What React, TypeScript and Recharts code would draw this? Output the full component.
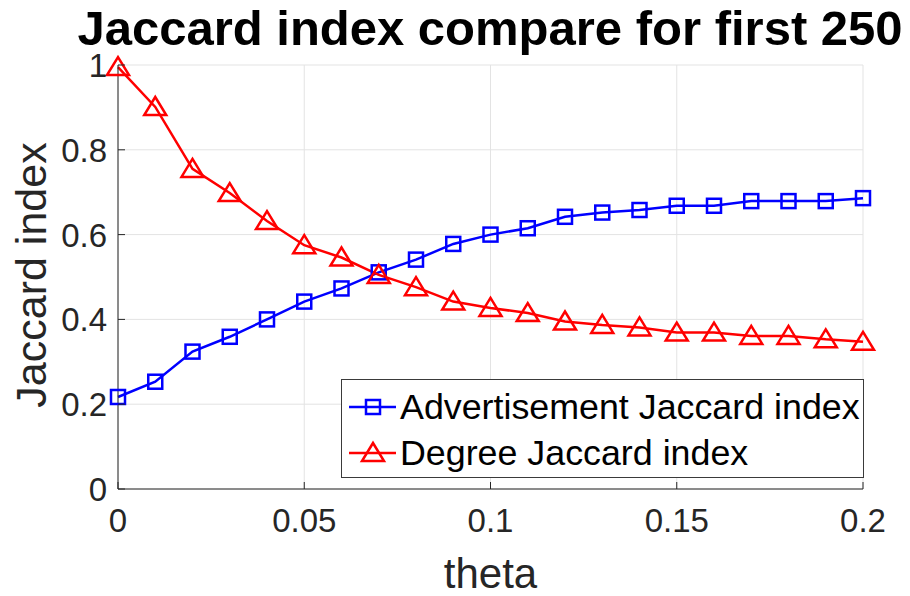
import React from 'react';
import { LineChart, Line, XAxis, YAxis, CartesianGrid } from 'recharts';

const thetas = [0, 0.01, 0.02, 0.03, 0.04, 0.05, 0.06, 0.07, 0.08, 0.09, 0.1, 0.11, 0.12, 0.13, 0.14, 0.15, 0.16, 0.17, 0.18, 0.19, 0.2];
const advJaccard = [0.217, 0.253, 0.324, 0.359, 0.4, 0.442, 0.473, 0.511, 0.541, 0.578, 0.6, 0.615, 0.642, 0.652, 0.658, 0.668, 0.668, 0.679, 0.679, 0.679, 0.686];
const degJaccard = [0.995, 0.901, 0.755, 0.698, 0.632, 0.575, 0.546, 0.505, 0.476, 0.442, 0.427, 0.415, 0.395, 0.387, 0.381, 0.369, 0.369, 0.361, 0.361, 0.353, 0.347];
const xTicks = [0, 0.05, 0.1, 0.15, 0.2];
const yTicks = [0, 0.2, 0.4, 0.6, 0.8, 1];

const data = thetas.map((t, i) => ({ theta: t, adv: advJaccard[i], deg: degJaccard[i] }));

const FONT = '"Liberation Sans", Arial, Helvetica, sans-serif';
const TICK_COLOR = '#262626';

const Square = (props: any) => {
  const { cx, cy } = props;
  if (cx == null || cy == null) return null;
  return <rect x={cx - 7} y={cy - 7} width={14} height={14} fill="none" stroke="#0000ff" strokeWidth={2.5} />;
};

const Triangle = (props: any) => {
  const { cx, cy } = props;
  if (cx == null || cy == null) return null;
  return (
    <polygon
      points={`${cx},${cy - 10} ${cx - 11},${cy + 8} ${cx + 11},${cy + 8}`}
      fill="none"
      stroke="#ff0000"
      strokeWidth={2.5}
    />
  );
};

const fmt = (v: number) => String(Number(v.toFixed(2)));

const XTick = (props: any) => {
  const { x, y, payload } = props;
  const axisY = y - 16;
  return (
    <g>
      <line x1={x} x2={x} y1={axisY} y2={axisY - 7} stroke={TICK_COLOR} strokeWidth={1} />
      <text x={x} y={y} dy={27} textAnchor="middle" fill={TICK_COLOR} fontSize={33} fontFamily={FONT}>
        {fmt(payload.value)}
      </text>
    </g>
  );
};

const YTick = (props: any) => {
  const { x, y, payload } = props;
  const axisX = x + 11;
  return (
    <g>
      <line x1={axisX} x2={axisX + 7} y1={y} y2={y} stroke={TICK_COLOR} strokeWidth={1} />
      <text x={x} y={y} dy={12} textAnchor="end" fill={TICK_COLOR} fontSize={33} fontFamily={FONT}>
        {fmt(payload.value)}
      </text>
    </g>
  );
};

const XLabel = (props: any) => {
  const { viewBox } = props;
  return (
    <text x={viewBox.x + viewBox.width / 2} y={viewBox.y + 99} textAnchor="middle" fill={TICK_COLOR} fontSize={42} fontFamily={FONT}>
      theta
    </text>
  );
};

const YLabel = (props: any) => {
  const { viewBox } = props;
  const cx = 31;
  const cy = viewBox.y + viewBox.height / 2 - 2;
  return (
    <text
      x={cx}
      y={cy}
      transform={`rotate(-90, ${cx}, ${cy})`}
      textAnchor="middle"
      dominantBaseline="central"
      fill={TICK_COLOR}
      fontSize={43}
      fontFamily={FONT}
    >
      Jaccard index
    </text>
  );
};

const legendItems = [
  { label: 'Advertisement Jaccard index', color: '#0000ff', marker: 'square' },
  { label: 'Degree Jaccard index', color: '#ff0000', marker: 'triangle' },
];

const LegendBox = () => (
  <div
    style={{
      position: 'absolute',
      left: 341,
      top: 379,
      width: 523,
      height: 99,
      border: '1.5px solid #3a3a3a',
      background: '#fff',
      boxSizing: 'border-box',
      fontFamily: FONT,
      paddingTop: 4,
    }}
  >
    {legendItems.map((it) => (
      <div key={it.label} style={{ display: 'flex', alignItems: 'center', height: 46 }}>
        <svg width={58} height={30} style={{ flex: 'none' }}>
          <line x1={7} x2={54} y1={15} y2={15} stroke={it.color} strokeWidth={2.5} />
          {it.marker === 'square' ? (
            <rect x={24} y={8} width={14} height={14} fill="none" stroke={it.color} strokeWidth={2.5} />
          ) : (
            <polygon points="31,5 20,23 42,23" fill="none" stroke={it.color} strokeWidth={2.5} />
          )}
        </svg>
        <span style={{ fontSize: 35.8, lineHeight: '46px', color: '#000', whiteSpace: 'nowrap' }}>{it.label}</span>
      </div>
    ))}
  </div>
);

export default function App() {
  return (
    <div style={{ position: 'absolute', left: 0, top: 0, width: 910, height: 596, background: '#fff', overflow: 'hidden' }}>
      <LineChart width={910} height={596} data={data} margin={{ top: 65, right: 47, bottom: 0, left: 0 }}>
        <CartesianGrid stroke="#e3e3e3" strokeWidth={1} />
        <XAxis
          dataKey="theta"
          type="number"
          domain={[0, 0.2]}
          ticks={xTicks}
          tickLine={false}
          tickSize={0}
          tickMargin={16}
          stroke={TICK_COLOR}
          height={107}
          tick={<XTick />}
          label={<XLabel />}
        />
        <YAxis
          type="number"
          domain={[0, 1]}
          ticks={yTicks}
          tickLine={false}
          tickSize={0}
          tickMargin={11}
          stroke={TICK_COLOR}
          width={118}
          tick={<YTick />}
          label={<YLabel />}
        />
        <Line dataKey="adv" stroke="#0000ff" strokeWidth={2.5} dot={<Square />} activeDot={false} isAnimationActive={false} />
        <Line dataKey="deg" stroke="#ff0000" strokeWidth={2.5} dot={<Triangle />} activeDot={false} isAnimationActive={false} />
      </LineChart>
      <div
        style={{
          position: 'absolute',
          left: 0,
          top: 0,
          width: 980,
          textAlign: 'center',
          fontFamily: FONT,
          fontWeight: 'bold',
          fontSize: 49,
          lineHeight: '56px',
          color: '#000',
          whiteSpace: 'nowrap',
        }}
      >
        Jaccard index compare for first 250
      </div>
      <LegendBox />
    </div>
  );
}
